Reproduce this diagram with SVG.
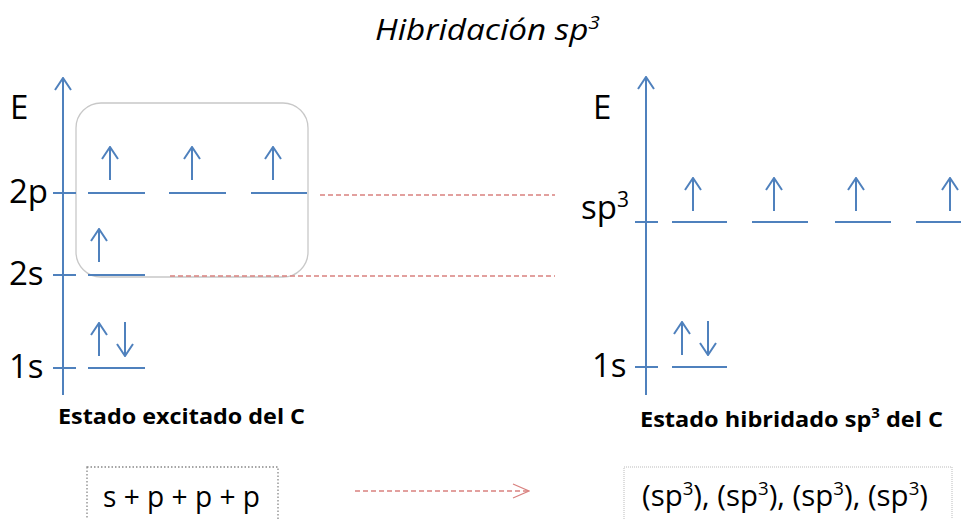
<svg xmlns="http://www.w3.org/2000/svg" width="961" height="519" viewBox="0 0 961 519">
<style>
.ax{stroke:#4f81bd;stroke-width:2;fill:none}
.lv{stroke:#4f81bd;stroke-width:2;fill:none}
.el{stroke:#4f81bd;stroke-width:2;fill:none;marker-end:url(#chev)}
.lbl{font-family:"Open Sans","Liberation Sans",sans-serif;font-size:33px;fill:#000}
.cap{font-family:"Open Sans","Liberation Sans",sans-serif;font-size:22px;font-weight:bold;fill:#000}
.red{stroke:#d9817f;stroke-width:1.5;stroke-dasharray:5 3;fill:none}
.box{font-family:"Open Sans","Liberation Sans",sans-serif;font-size:30px;fill:#000}
</style>
<defs>
<marker id="chev" viewBox="0 0 14 18" refX="13" refY="9" markerWidth="14" markerHeight="18" markerUnits="userSpaceOnUse" orient="auto">
<path d="M1,1 L13,9 L1,17" fill="none" stroke="#4f81bd" stroke-width="2"/>
</marker>
<marker id="redchev" viewBox="0 0 18 18" refX="17" refY="9" markerWidth="18" markerHeight="18" markerUnits="userSpaceOnUse" orient="auto">
<path d="M1,2 L17,9 L1,16" fill="none" stroke="#d9817f" stroke-width="1.3"/>
</marker>
</defs>
<rect width="961" height="519" fill="#fff"/>
<text x="375" y="40" font-family="'Open Sans','Liberation Sans',sans-serif" font-style="italic" font-size="30" fill="#000" textLength="225" lengthAdjust="spacingAndGlyphs">Hibridación sp<tspan dy="-11" font-size="19">3</tspan></text>

<g id="left-diagram">
<rect id="excited-box" x="76" y="103" width="232" height="174" rx="25" fill="none" stroke="#c8c8c8" stroke-width="1.3"/>
<line class="el" x1="63" y1="395" x2="63" y2="78"/>
<text class="lbl" x="10" y="119" font-size="30">E</text>
<g id="lvl-2p">
<line class="lv" x1="53" y1="193" x2="76" y2="193"/>
<text class="lbl" x="9" y="203">2p</text>
<line class="lv" x1="88" y1="193" x2="145" y2="193"/>
<line class="lv" x1="169" y1="193" x2="226" y2="193"/>
<line class="lv" x1="251" y1="193" x2="307" y2="193"/>
<line class="el" x1="110" y1="180" x2="110" y2="147"/>
<line class="el" x1="192" y1="180" x2="192" y2="147"/>
<line class="el" x1="273" y1="180" x2="273" y2="147"/>
</g>
<g id="lvl-2s">
<line class="lv" x1="53" y1="275" x2="76" y2="275"/>
<text class="lbl" x="9" y="285">2s</text>
<line class="lv" x1="88" y1="275" x2="145" y2="275"/>
<line class="el" x1="99" y1="262" x2="99" y2="229"/>
</g>
<g id="lvl-1s-left">
<line class="lv" x1="53" y1="368" x2="76" y2="368"/>
<text class="lbl" x="9" y="378">1s</text>
<line class="lv" x1="88" y1="368" x2="145" y2="368"/>
<line class="el" x1="99" y1="356" x2="99" y2="323"/>
<line class="el" x1="125" y1="322" x2="125" y2="356"/>
</g>
<text class="cap" x="58" y="424" textLength="247" lengthAdjust="spacingAndGlyphs">Estado excitado del C</text>
</g>

<g id="right-diagram">
<line class="el" x1="646" y1="395" x2="646" y2="77"/>
<text class="lbl" x="593" y="119" font-size="30">E</text>
<g id="lvl-sp3">
<line class="lv" x1="635" y1="222" x2="658" y2="222"/>
<text class="lbl" x="581" y="219">sp<tspan dy="-12" font-size="21">3</tspan></text>
<line class="lv" x1="672" y1="222" x2="727" y2="222"/>
<line class="lv" x1="752" y1="222" x2="808" y2="222"/>
<line class="lv" x1="835" y1="222" x2="891" y2="222"/>
<line class="lv" x1="916" y1="222" x2="961" y2="222"/>
<line class="el" x1="693" y1="211" x2="693" y2="178"/>
<line class="el" x1="774" y1="211" x2="774" y2="178"/>
<line class="el" x1="856" y1="211" x2="856" y2="178"/>
<line class="el" x1="950" y1="211" x2="950" y2="178"/>
</g>
<g id="lvl-1s-right">
<line class="lv" x1="635" y1="367" x2="658" y2="367"/>
<text class="lbl" x="592" y="377">1s</text>
<line class="lv" x1="672" y1="367" x2="727" y2="367"/>
<line class="el" x1="682" y1="355" x2="682" y2="322"/>
<line class="el" x1="708" y1="321" x2="708" y2="355"/>
</g>
<text class="cap" x="640" y="427" textLength="303" lengthAdjust="spacingAndGlyphs">Estado hibridado sp<tspan dy="-9" font-size="14">3</tspan><tspan dy="9"> del C</tspan></text>
</g>

<g id="sum-box">
<rect x="87" y="467" width="191" height="60" fill="none" stroke="#888" stroke-width="1.3" stroke-dasharray="1.5 2"/>
<text class="box" x="103" y="507" textLength="157" lengthAdjust="spacingAndGlyphs">s + p + p + p</text>
</g>
<g id="result-box">
<rect x="624" y="467" width="328" height="60" fill="none" stroke="#bbb" stroke-width="1" stroke-dasharray="1 1"/>
<text class="box" x="642" y="506" textLength="286" lengthAdjust="spacingAndGlyphs">(sp<tspan dy="-11" font-size="19">3</tspan><tspan dy="11">), (sp</tspan><tspan dy="-11" font-size="19">3</tspan><tspan dy="11">), (sp</tspan><tspan dy="-11" font-size="19">3</tspan><tspan dy="11">), (sp</tspan><tspan dy="-11" font-size="19">3</tspan><tspan dy="11">)</tspan></text>
</g>

<g id="connectors">
<line class="red" x1="320" y1="195" x2="555" y2="195"/>
<line class="red" x1="170" y1="276" x2="555" y2="276"/>
<line class="red" x1="355" y1="491" x2="529" y2="491" marker-end="url(#redchev)"/>
</g>
</svg>
